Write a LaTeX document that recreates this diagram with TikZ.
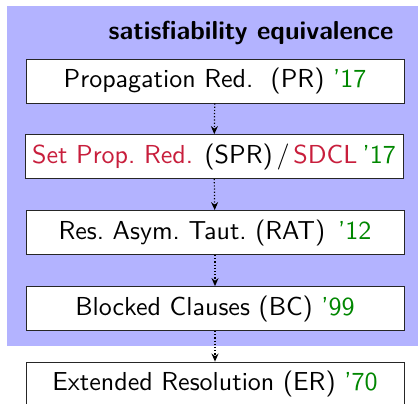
\documentclass[tikz,border=0pt]{standalone}
\usetikzlibrary{arrows.meta}
\definecolor{bgblue}{RGB}{179,179,255}
\definecolor{namered}{RGB}{200,30,60}
\definecolor{yeargreen}{RGB}{0,135,0}
\newcommand{\yr}[1]{\textcolor{yeargreen}{’#1}}
\newcommand{\nm}[1]{\textcolor{namered}{#1}}
\newcommand{\boxtext}[1]{\scalebox{2.6}{#1}}
\begin{document}
\begin{tikzpicture}[x=1pt,y=-1pt,
  techbox/.style={draw=black!85, line width=0.8pt, fill=white,
    minimum width=378pt, minimum height=44pt, inner sep=0pt,
    font=\sffamily\fontsize{10}{12}\selectfont},
  impl/.style={dotted, line width=1.2pt, -{Stealth[length=8pt,width=7pt]}}]
  \useasboundingbox (0,0) rectangle (418,404);
  % shaded region of satisfiability-preserving techniques
  \fill[bgblue] (7,6) rectangle (418,346);
  \node[anchor=base east, font=\sffamily\bfseries\fontsize{10}{12}\selectfont]
    (title) at (397,40) {\scalebox{2.6}{satisfiability equivalence}};
  \node[techbox] (pr)  at (215,81)    {\boxtext{Propagation Red.\ \ (PR) \yr{17}}};
  \node[techbox] (spr) at (214,156.5) {\boxtext{\nm{Set Prop.\ Red.} (SPR)\hspace{0.15em}/\hspace{0.15em}\nm{SDCL}\hspace{0.2em}\yr{17}}};
  \node[techbox] (rat) at (215,232.5) {\boxtext{Res.\ Asym.\ Taut.\ (RAT)\ \,\yr{12}}};
  \node[techbox] (bc)  at (215,308.5) {\boxtext{Blocked Clauses (BC) \yr{99}}};
  \node[techbox] (er)  at (215,384)   {\boxtext{Extended Resolution (ER) \yr{70}}};
  \draw[impl] (pr)  -- (spr);
  \draw[impl] (spr) -- (rat);
  \draw[impl] (rat) -- (bc);
  \draw[impl] (bc)  -- (er);
\end{tikzpicture}
\end{document}
